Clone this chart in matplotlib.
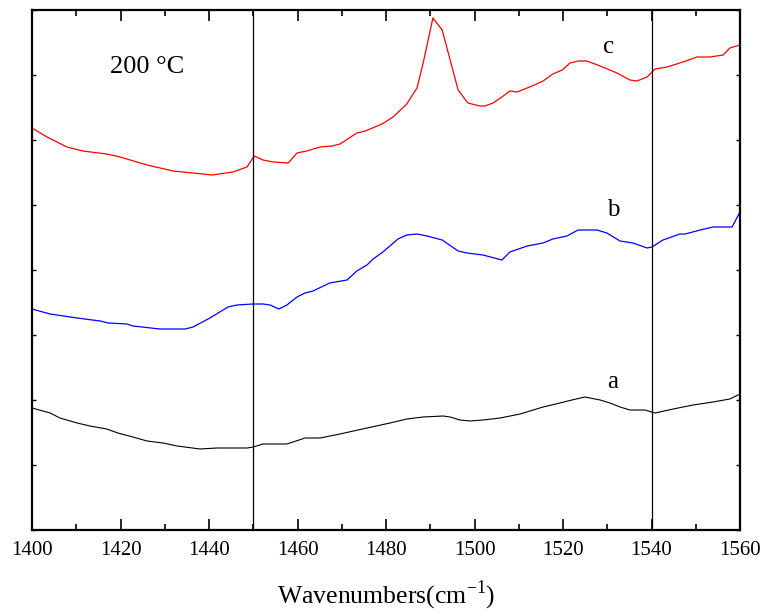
import matplotlib
matplotlib.use("Agg")
import matplotlib.pyplot as plt
from matplotlib.ticker import MultipleLocator

plt.rcParams['font.family'] = ['Liberation Serif', 'DejaVu Serif']
plt.rcParams['mathtext.fontset'] = 'custom'
plt.rcParams['mathtext.rm'] = 'Liberation Serif'

# Curve a (black)
wn_a = [1400, 1404.1, 1406.3, 1410.2, 1413.1, 1416.9, 1419.4, 1422.8, 1426.0, 1429.6,
        1432.8, 1438.0, 1441.8, 1448.6, 1450.0, 1452.2, 1457.6, 1459.0, 1461.7, 1465.1,
        1469.6, 1475.7, 1480.9, 1484.7, 1488.4, 1492.9, 1494.5, 1496.7, 1499.0, 1501.9,
        1505.8, 1510.3, 1515.5, 1519.3, 1522.0, 1525.0, 1528.4, 1530.6, 1532.9, 1535.1,
        1538.5, 1540.8, 1544.9, 1549.4, 1553.9, 1557.7, 1560]
abs_a = [122, 117, 112, 107, 104, 101, 97, 93, 89, 87,
         84, 81, 82, 82, 83, 86, 86, 88, 92, 92,
         96, 102, 107, 111, 113, 114, 113, 110, 109, 110,
         112, 116, 123, 127, 130, 133, 130, 127, 123, 120,
         120, 117, 121, 125, 128, 131, 136]

# Curve b (blue)
wn_b = [1400, 1404.1, 1410.2, 1415.4, 1417.2, 1421.5, 1422.8, 1428.9, 1434.6, 1436.4,
        1440.2, 1444.3, 1446.3, 1449.9, 1452.2, 1453.8, 1455.8, 1457.6, 1459.9, 1461.7,
        1463.5, 1467.3, 1471.2, 1473.4, 1475.7, 1477.1, 1479.3, 1482.7, 1484.7, 1487.0,
        1489.3, 1492.7, 1496.3, 1498.3, 1501.9, 1506.2, 1508.0, 1511.9, 1515.5, 1517.7,
        1520.9, 1523.4, 1527.7, 1529.9, 1532.9, 1535.8, 1539.0, 1540.1, 1542.6, 1546.4,
        1547.6, 1551.0, 1553.9, 1558.2, 1560]
abs_b = [221, 216, 212, 209, 207, 206, 204, 201, 201, 203,
         212, 223, 225, 226, 226, 225, 221, 225, 233, 237,
         239, 247, 250, 259, 265, 271, 278, 291, 295, 296,
         294, 290, 279, 277, 275, 270, 278, 284, 287, 291,
         294, 300, 300, 297, 289, 287, 282, 283, 290, 296,
         296, 300, 303, 303, 318]

# Curve c (red)
wn_c = [1400, 1403.4, 1407.9, 1411.5, 1416.9, 1419.9, 1426.0, 1431.9, 1436.4, 1440.7,
        1445.4, 1448.6, 1450.2, 1452.2, 1454.5, 1457.9, 1459.9, 1462.1, 1465.1, 1467.8,
        1469.6, 1473.4, 1475.3, 1479.1, 1481.6, 1484.7, 1487.0, 1488.4, 1490.6, 1492.7,
        1494.5, 1496.3, 1498.5, 1501.2, 1502.4, 1504.2, 1506.2, 1508.0, 1509.6, 1512.5,
        1515.5, 1517.7, 1519.8, 1521.6, 1523.4, 1525.4, 1528.4, 1532.2, 1535.1, 1536.7,
        1539.0, 1540.8, 1543.5, 1547.1, 1550.3, 1553.2, 1556.2, 1557.7, 1560]
abs_c = [402, 393, 383, 379, 376, 373, 365, 359, 357, 355,
         358, 363, 374, 370, 368, 367, 377, 379, 383, 384,
         386, 397, 399, 406, 413, 426, 442, 467, 512, 500,
         470, 440, 427, 424, 424, 427, 433, 439, 438, 443,
         449, 456, 460, 467, 469, 469, 464, 457, 450, 449,
         453, 461, 463, 468, 473, 473, 475, 482, 485]

ref_lines = [1450, 1540]
curve_labels = ['a', 'b', 'c']
label_pos = [(1531.3, 148), (1531.3, 320), (1530.2, 483)]
x_ticks = [1400, 1420, 1440, 1460, 1480, 1500, 1520, 1540, 1560]

fig = plt.figure(figsize=(7.63, 6.11), dpi=100)
ax = fig.add_axes([32/763, 81/611, 708/763, 520/611])

ax.plot(wn_a, abs_a, color='black', lw=0.8)
ax.plot(wn_b, abs_b, color='blue', lw=0.9)
ax.plot(wn_c, abs_c, color='red', lw=0.9)
for xv in ref_lines:
    ax.axvline(xv, color='black', lw=0.9)

for lab, (lx, ly) in zip(curve_labels, label_pos):
    ax.text(lx, ly, lab, fontsize=18, ha='center', va='center')
ax.text(1426, 463, '200 °C', fontsize=19, ha='center', va='center')

ax.set_xlim(1400, 1560)
ax.set_ylim(0, 520)
ax.set_xticks(x_ticks)
ax.xaxis.set_minor_locator(MultipleLocator(10))
ax.yaxis.set_major_locator(MultipleLocator(65))
ax.set_yticklabels([])
ax.tick_params(axis='x', which='major', direction='in', length=8, width=1.2,
               top=True, labelsize=15, pad=8)
ax.tick_params(axis='x', which='minor', direction='in', length=4, width=1.2, top=True)
ax.tick_params(axis='y', which='major', direction='in', length=3, width=1.0,
               right=True, labelleft=False)
for s in ax.spines.values():
    s.set_linewidth(1.6)

ax.set_xlabel('Wavenumbers(cm$^{-1}$)', fontsize=18.5, labelpad=13)

fig.savefig('out.png', dpi=100)
